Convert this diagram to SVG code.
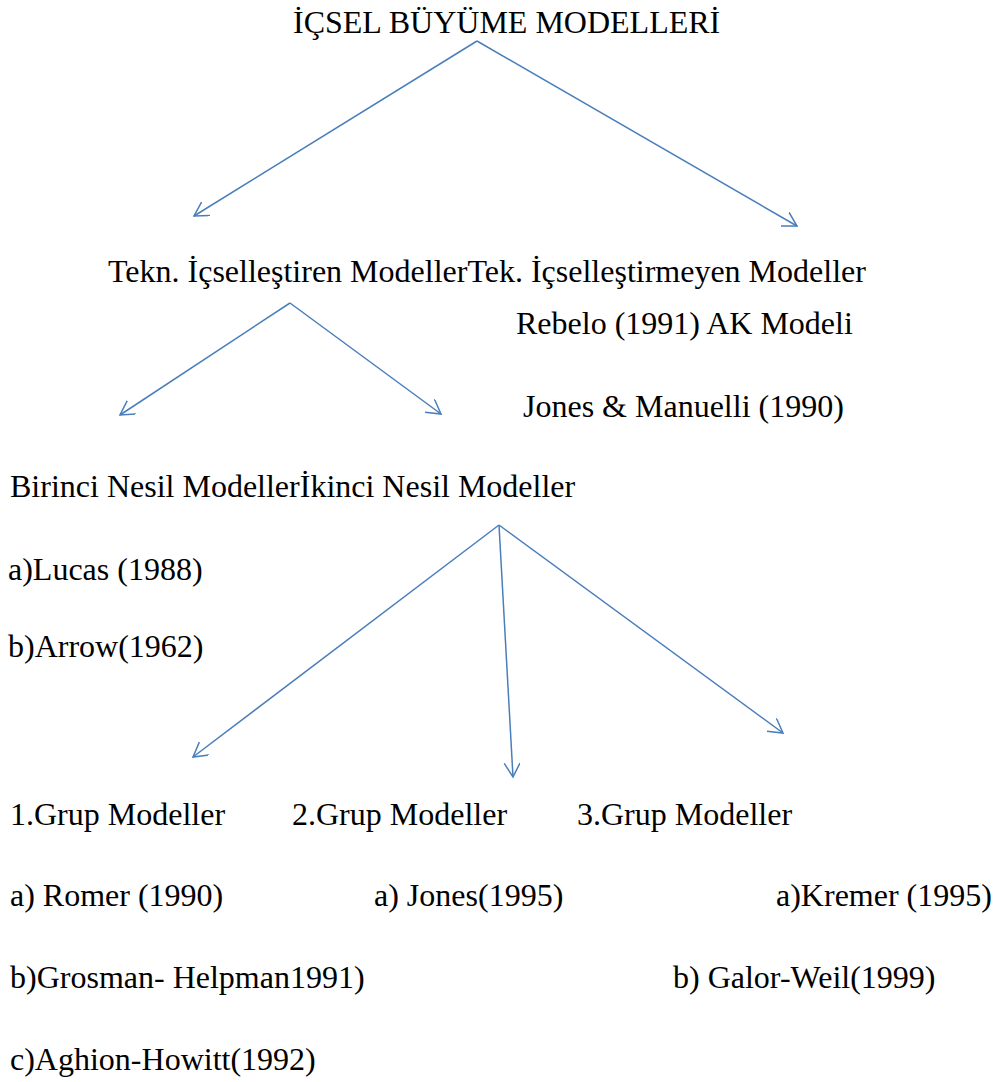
<svg xmlns="http://www.w3.org/2000/svg" width="995" height="1082" viewBox="0 0 995 1082">
  <defs>
    <style>
      .t { font-family: "Liberation Serif", "Times New Roman", serif; font-size: 32px; fill: #000; }
      .c { stroke: #4A7EBB; stroke-width: 1.5; fill: none; }
    </style>
    <marker id="arrow" markerUnits="userSpaceOnUse" markerWidth="20" markerHeight="20" refX="14" refY="8" orient="auto">
      <path d="M0,0 L14,8 L0,16" fill="none" stroke="#4A7EBB" stroke-width="1.5"/>
    </marker>
  </defs>
  <rect width="995" height="1082" fill="#fff"/>

  <g id="connectors">
    <line class="c" x1="477" y1="41" x2="194" y2="216" marker-end="url(#arrow)"/>
    <line class="c" x1="477" y1="41" x2="797" y2="226" marker-end="url(#arrow)"/>
    <line class="c" x1="290" y1="303" x2="120" y2="415" marker-end="url(#arrow)"/>
    <line class="c" x1="290" y1="303" x2="441" y2="414" marker-end="url(#arrow)"/>
    <line class="c" x1="499" y1="525" x2="193" y2="757" marker-end="url(#arrow)"/>
    <line class="c" x1="499" y1="525" x2="513" y2="777" marker-end="url(#arrow)"/>
    <line class="c" x1="499" y1="525" x2="783" y2="733" marker-end="url(#arrow)"/>
  </g>

  <g id="root"><text class="t" x="293" y="33">İÇSEL BÜYÜME MODELLERİ</text></g>
  <g id="level2"><text class="t" x="108" y="282">Tekn. İçselleştiren ModellerTek. İçselleştirmeyen Modeller</text></g>
  <g id="rebelo"><text class="t" x="516" y="334">Rebelo (1991) AK Modeli</text></g>
  <g id="jones-manuelli"><text class="t" x="523" y="417">Jones &amp; Manuelli (1990)</text></g>
  <g id="generations"><text class="t" x="10" y="497">Birinci Nesil Modellerİkinci Nesil Modeller</text></g>
  <g id="lucas"><text class="t" x="8" y="580">a)Lucas (1988)</text></g>
  <g id="arrow-1962"><text class="t" x="8" y="657">b)Arrow(1962)</text></g>

  <g id="group1"><text class="t" x="10" y="825">1.Grup Modeller</text></g>
  <g id="group2"><text class="t" x="292" y="825">2.Grup Modeller</text></g>
  <g id="group3"><text class="t" x="577" y="825">3.Grup Modeller</text></g>

  <g id="romer"><text class="t" x="10" y="906">a) Romer (1990)</text></g>
  <g id="jones"><text class="t" x="374" y="906">a) Jones(1995)</text></g>
  <g id="kremer"><text class="t" x="776" y="906">a)Kremer (1995)</text></g>
  <g id="grosman"><text class="t" x="10" y="988">b)Grosman- Helpman1991)</text></g>
  <g id="galor"><text class="t" x="673" y="988">b) Galor-Weil(1999)</text></g>
  <g id="aghion"><text class="t" x="10" y="1070">c)Aghion-Howitt(1992)</text></g>
</svg>
